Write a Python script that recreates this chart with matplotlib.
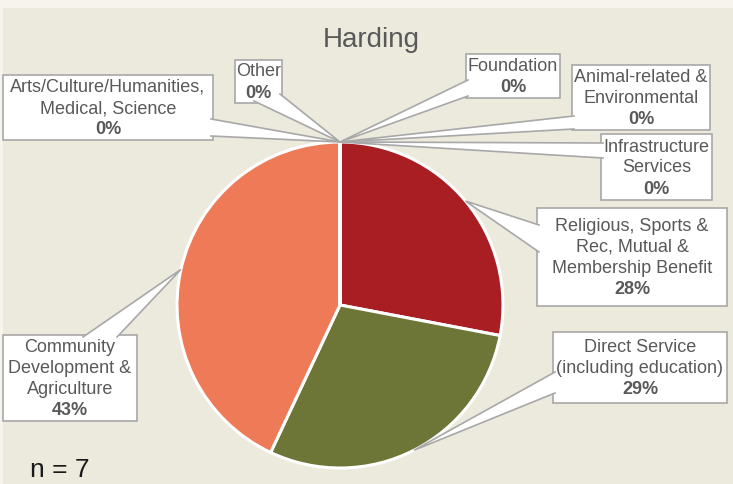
import numpy as np
import matplotlib
matplotlib.use("Agg")
import matplotlib.pyplot as plt
from matplotlib.patches import Rectangle, Polygon

plt.rcParams['font.family'] = ['Liberation Sans', 'DejaVu Sans']

W, H = 733, 484

# data, in pie order (clockwise from 12 o'clock)
categories = ["Religious, Sports &\nRec, Mutual &\nMembership Benefit",
              "Direct Service\n(including education)",
              "Community\nDevelopment &\nAgriculture",
              "Arts/Culture/Humanities,\nMedical, Science",
              "Other",
              "Foundation",
              "Animal-related &\nEnvironmental",
              "Infrastructure\nServices"]
percents = [28, 29, 43, 0, 0, 0, 0, 0]
colors = ["#A81E23", "#6D7637", "#EE7A57", "#FFFFFF", "#FFFFFF", "#FFFFFF", "#FFFFFF", "#FFFFFF"]

# callout boxes in pixels: (x0, y0, x1, y1), and the base of the pointer on the box edge
boxes = [(537, 208, 727, 306), (553, 332, 727, 403), (3, 335, 137, 421),
         (3, 75, 213, 140), (235, 60, 282, 103), (466, 54, 560, 98),
         (572, 65, 710, 130), (601, 134, 712, 200)]
bases = [((539, 225), (539, 252)), ((555, 372), (555, 393)), ((83, 337), (117, 337)),
         ((211, 119), (211, 136)), ((254, 101), (280, 94)), ((468, 80), (468, 96)),
         ((574, 116), (574, 129)), ((603, 143), (603, 158))]

txt = "#595959"
edge = "#A8A8A8"


def fy(y):
    return H - y


fig = plt.figure(figsize=(W / 100, H / 100), dpi=100, facecolor="#F6F4ED")
ax = fig.add_axes([0, 0, 1, 1])
ax.set_facecolor("#F6F4ED")
ax.add_patch(Rectangle((3, 0), W, fy(8), facecolor="#ECE9DD", edgecolor="none", zorder=0))

cx, cy, r = 340, fy(305), 163
wedges, _ = ax.pie(percents, colors=colors, startangle=90, counterclock=False,
                   center=(cx, cy), radius=r, frame=True,
                   wedgeprops=dict(edgecolor="white", linewidth=2.2))
for w in wedges:
    w.set_zorder(1)

for w, lab, pct, (x0, y0, x1, y1), (b1, b2) in zip(wedges, categories, percents, boxes, bases):
    mid = np.deg2rad((w.theta1 + w.theta2) / 2)
    tip = (cx + r * np.cos(mid), cy + r * np.sin(mid))
    ax.add_patch(Rectangle((x0, fy(y1)), x1 - x0, y1 - y0, facecolor="white",
                           edgecolor=edge, linewidth=1.2, zorder=3))
    p1 = (b1[0], fy(b1[1]))
    p2 = (b2[0], fy(b2[1]))
    ax.add_patch(Polygon([p1, tip, p2], closed=True, facecolor="white",
                         edgecolor="none", zorder=4))
    ax.plot([p1[0], tip[0], p2[0]], [p1[1], tip[1], p2[1]], color=edge,
            linewidth=1.2, zorder=5, solid_joinstyle="miter")
    lines = lab.split("\n") + [f"{pct}%"]
    n = len(lines)
    xc = (x0 + x1) / 2
    yc = (y0 + y1) / 2 + 1
    lh = 21
    for i, line in enumerate(lines):
        yy = yc + (i - (n - 1) / 2) * lh
        ax.text(xc, fy(yy), line, ha="center", va="center", fontsize=13,
                color=txt, fontweight="bold" if i == n - 1 else "normal", zorder=6)

ax.text(371, fy(40), "Harding", ha="center", va="center", fontsize=20, color=txt)
ax.text(30, fy(470), "n = 7", ha="left", va="center", fontsize=19, color="#1A1A1A")

ax.set_xlim(0, W)
ax.set_ylim(0, H)
ax.set_aspect("auto")
ax.axis("off")

fig.savefig("out.png", dpi=100, facecolor=fig.get_facecolor())
